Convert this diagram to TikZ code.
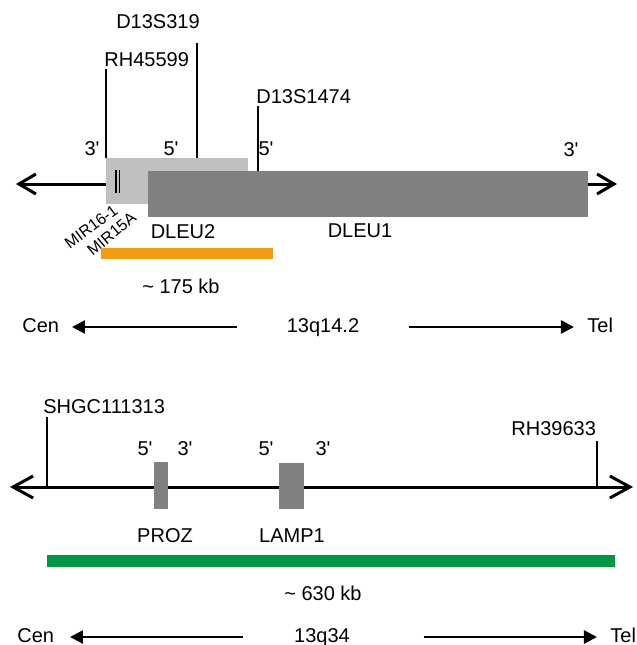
\documentclass[tikz,border=0pt]{standalone}
\usepackage{fontspec}
\setmainfont{Liberation Sans}
\usetikzlibrary{positioning,arrows.meta}
\definecolor{dleulight}{RGB}{191,191,191}
\definecolor{genegray}{RGB}{128,128,128}
\definecolor{regionorange}{RGB}{240,155,20}
\definecolor{regiongreen}{RGB}{0,150,68}
\newcommand{\fivep}{5\textquotesingle}
\newcommand{\threep}{3\textquotesingle}

\begin{document}
\begin{tikzpicture}[x=0.5pt,y=-0.5pt,
	font=\fontsize{10}{12}\selectfont,
	txt/.style={inner sep=0pt},
	mirtxt/.style={inner sep=0pt,anchor=east,font=\fontsize{8}{9}\selectfont},
	gene/.style={inner sep=0pt,outer sep=0pt,anchor=north west,fill=genegray},
	region/.style={inner sep=0pt,outer sep=0pt,anchor=north west},
	marker/.style={line width=1pt},
	chrom/.style={line width=1.5pt,{Straight Barb[length=8.5pt,width=10pt]}-{Straight Barb[length=8.5pt,width=10pt]}},
	orient/.style={line width=1.2pt,-{Triangle[length=6.5pt,width=6.5pt]}}]
	\useasboundingbox (0,0) rectangle (637,645);

	%% 13q14.2
	\coordinate (tl) at (16,184);
	\coordinate (tr) at (617,184);
	\draw[chrom] (tl) -- (tr);
	\node[gene,fill=dleulight,minimum width=71pt,minimum height=23pt] (dleuII) at (106,158) {};
	\node[gene,minimum width=220pt,minimum height=23pt] (dleuI) at (148,171) {};
	% miR cluster
	\draw[line width=0.6pt] (116,170) -- (116,193) (119.5,170) -- (119.5,193);
	\node[mirtxt,rotate=37] (mirA) at (116,208) {MIR16-1};
	\node[mirtxt,rotate=40] (mirB) at (134,215) {MIR15A};
	% markers
	\coordinate (mRH) at (106,69);
	\coordinate (mDa) at (197,43);
	\coordinate (mDb) at (258,106);
	\draw[marker] (mRH) -- (mRH |- dleuII.north);
	\draw[marker] (mDa) -- (mDa |- dleuII.north);
	\draw[marker] (mDb) -- (mDb |- dleuI.north);
	\node[txt,above right=1pt and -1pt of mRH] (lRH) {RH45599};
	\node[txt,anchor=base] (lDa) at (158,28) {D13S319};
	\node[txt,above right=1pt and -1pt of mDb] (lDb) {D13S1474};
	% ends
	\node[txt,anchor=base] (eA) at (92,155) {\threep};
	\node[txt,anchor=base] (eB) at (171,155) {\fivep};
	\node[txt,anchor=base] (eC) at (266,155) {\fivep};
	\node[txt,anchor=base] (eD) at (571,156) {\threep};
	\node[txt,anchor=base] (nDLEUII) at (183,238) {DLEU2};
	\node[txt,anchor=base] (nDLEUI) at (360,237) {DLEU1};
	% deleted region
	\node[region,fill=regionorange,minimum width=86pt,minimum height=5.5pt] (regA) at (101,248) {};
	\node[txt,anchor=base] (sizeA) at (181,293) {\char`~{} 175 kb};
	% orientation
	\node[txt,anchor=base west] (cenA) at (22,332) {Cen};
	\node[txt,anchor=base] (bandA) at (323,332) {13q14.2};
	\node[txt,anchor=base west] (telA) at (587,332) {Tel};
	\coordinate (cenAt) at (237,327);
	\coordinate (cenAh) at (72,327);
	\coordinate (telAt) at (409,327);
	\coordinate (telAh) at (574,327);
	\draw[orient] (cenAt) -- (cenAh);
	\draw[orient] (telAt) -- (telAh);

	%% 13q34
	\coordinate (bl) at (10,487);
	\coordinate (br) at (633,487);
	\draw[chrom,{Straight Barb[length=10pt,width=11pt]}-{Straight Barb[length=10pt,width=11pt]}] (bl) -- (br);
	\node[gene,minimum width=7pt,minimum height=23.5pt] (proz) at (154,462) {};
	\node[gene,minimum width=12.5pt,minimum height=23pt] (lamp) at (279,463) {};
	% markers
	\coordinate (mSH) at (47,417);
	\coordinate (mRHb) at (597,441);
	\draw[marker] (mSH) -- (mSH |- bl);
	\draw[marker] (mRHb) -- (mRHb |- bl);
	\node[txt,anchor=base west] (lSH) at (43,413) {SHGC111313};
	\node[txt,anchor=base west] (lRHb) at (511,435) {RH39633};
	% ends
	\node[txt,anchor=base] (fA) at (145,455) {\fivep};
	\node[txt,anchor=base] (fB) at (185,455) {\threep};
	\node[txt,anchor=base] (fC) at (266,455) {\fivep};
	\node[txt,anchor=base] (fD) at (323,455) {\threep};
	\node[txt,anchor=base] (nPROZ) at (165,542) {PROZ};
	\node[txt,anchor=base] (nLAMP) at (292,542) {LAMP1};
	% deleted region
	\node[region,fill=regiongreen,minimum width=284pt,minimum height=6pt] (regB) at (47,555) {};
	\node[txt,anchor=base] (sizeB) at (323,600) {\char`~{} 630 kb};
	% orientation
	\node[txt,anchor=base west] (cenB) at (17,642) {Cen};
	\node[txt,anchor=base] (bandB) at (322,642) {13q34};
	\node[txt,anchor=base west] (telB) at (610,642) {Tel};
	\coordinate (cenBt) at (243,637);
	\coordinate (cenBh) at (70,637);
	\coordinate (telBt) at (424,637);
	\coordinate (telBh) at (597,637);
	\draw[orient] (cenBt) -- (cenBh);
	\draw[orient] (telBt) -- (telBh);
\end{tikzpicture}
\end{document}
